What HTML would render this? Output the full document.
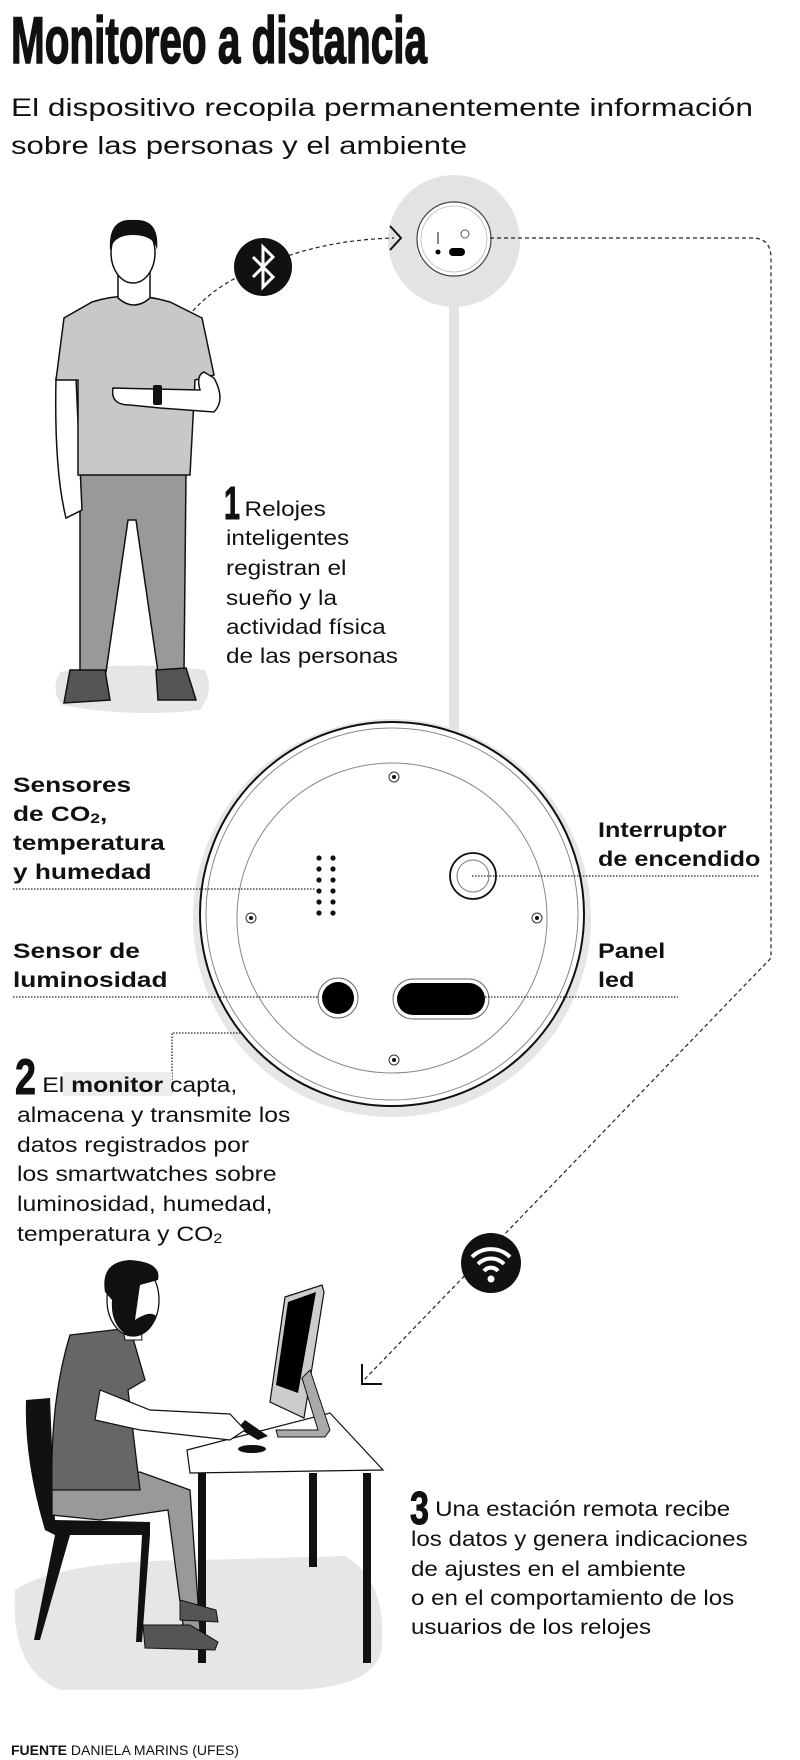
<!DOCTYPE html>
<html><head><meta charset="utf-8"><style>
html,body{margin:0;padding:0;background:#fff;}
svg{display:block;}
text{font-family:"Liberation Sans",sans-serif;fill:#111;}
.b{font-weight:bold;}
.t{font-size:21px;}
</style></head><body>
<svg width="800" height="1760" viewBox="0 0 800 1760" xmlns="http://www.w3.org/2000/svg">
<text x="11" y="63" style="font-family:'Liberation Sans Narrow','Liberation Sans',sans-serif;font-weight:bold;font-size:66px;stroke:#111;stroke-width:1.6" textLength="416" lengthAdjust="spacingAndGlyphs">Monitoreo a distancia</text>
<text x="11" y="116" style="font-size:25px" textLength="742" lengthAdjust="spacingAndGlyphs">El dispositivo recopila permanentemente información</text>
<text x="11" y="154" style="font-size:25px" textLength="456" lengthAdjust="spacingAndGlyphs">sobre las personas y el ambiente</text>

<rect x="449" y="300" width="10" height="440" fill="#e3e3e3"/>
<circle cx="454" cy="241" r="66" fill="#e3e3e3"/>
<circle cx="454" cy="239" r="37" fill="#fff" stroke="#444" stroke-width="1.2"/>
<circle cx="454" cy="239" r="33" fill="none" stroke="#bbb" stroke-width="0.8"/>
<circle cx="465" cy="234" r="4" fill="none" stroke="#555"/>
<rect x="437" y="232" width="2" height="12" fill="#888"/>
<circle cx="438" cy="252" r="2.5" fill="#000"/>
<rect x="449" y="248" width="16" height="8" rx="4" fill="#000"/>

<path d="M490 238 H752 Q771 238 771 258 V958 L364 1380" fill="none" stroke="#222" stroke-width="1.2" stroke-dasharray="4,3"/>
<path d="M362 1364 V1384 H382" fill="none" stroke="#111" stroke-width="2"/>
<path d="M158 386 Q172 300 262 266 Q320 240 394 238" fill="none" stroke="#222" stroke-width="1.2" stroke-dasharray="4,3"/>
<path d="M390 226 L401 238 L390 250" fill="none" stroke="#111" stroke-width="2"/>

<circle cx="263" cy="267" r="29" fill="#111"/>
<path d="M253 257 L273 277 L263 287 V247 L273 257 L253 277" fill="none" stroke="#fff" stroke-width="3"/>
<circle cx="491" cy="1263" r="30" fill="#111"/>
<path d="M472 1257 A27 27 0 0 1 510 1257" fill="none" stroke="#fff" stroke-width="4"/>
<path d="M478 1264 A18 18 0 0 1 504 1264" fill="none" stroke="#fff" stroke-width="4"/>
<path d="M484 1271 A9 9 0 0 1 498 1271" fill="none" stroke="#fff" stroke-width="4"/>
<circle cx="491" cy="1279" r="3.5" fill="#fff"/>

<path d="M60 672 Q130 660 205 670 Q215 690 200 710 Q130 718 62 705 Q50 690 60 672Z" fill="#e6e6e6"/>
<path d="M80 472 L186 472 L184 672 L158 672 L136 520 L128 520 L106 672 L80 672Z" fill="#999" stroke="#111" stroke-width="1.5"/>
<path d="M70 670 L105 670 L110 700 L64 703Z M156 670 L186 668 L196 700 L158 700Z" fill="#555" stroke="#111" stroke-width="1.5"/>
<path d="M56 378 L76 378 L82 510 L66 518 Q54 470 56 378Z" fill="#fff" stroke="#111" stroke-width="1.5"/>
<path d="M92 302 Q130 290 170 302 L202 318 L214 375 L195 380 L190 475 L78 475 L78 380 L56 380 L64 318Z" fill="#c8c8c8" stroke="#111" stroke-width="1.5"/>
<path d="M113 388 L200 390 Q196 375 204 372 L214 378 Q226 400 214 412 L160 408 L130 405 Q110 405 113 388Z" fill="#fff" stroke="#111" stroke-width="1.5"/>
<rect x="153" y="385" width="9" height="20" rx="2" fill="#111"/>
<path d="M118 270 L150 270 L150 298 Q134 312 118 298Z" fill="#fff" stroke="#111" stroke-width="1.5"/>
<ellipse cx="133" cy="253" rx="22" ry="30" fill="#fff" stroke="#111" stroke-width="1.5"/>
<path d="M110 250 Q108 218 133 220 Q160 218 157 250 Q154 235 133 235 Q114 235 110 250Z" fill="#111"/>

<circle cx="392" cy="918" r="199" fill="#e6e6e6"/>
<circle cx="392" cy="914" r="192" fill="#fff" stroke="#111" stroke-width="2"/>
<circle cx="392" cy="914" r="186" fill="none" stroke="#888" stroke-width="1"/>
<circle cx="392" cy="918" r="155" fill="none" stroke="#888" stroke-width="1"/>
<g fill="#fff" stroke="#333" stroke-width="1">
<circle cx="394" cy="777" r="5"/><circle cx="394" cy="1060" r="5"/><circle cx="251" cy="918" r="5"/><circle cx="537" cy="918" r="5"/></g>
<g fill="#111">
<circle cx="394" cy="777" r="2"/><circle cx="394" cy="1060" r="2"/><circle cx="251" cy="918" r="2"/><circle cx="537" cy="918" r="2"/>
<circle cx="319" cy="858" r="2.6"/><circle cx="333" cy="858" r="2.6"/>
<circle cx="319" cy="869" r="2.6"/><circle cx="333" cy="869" r="2.6"/>
<circle cx="319" cy="880" r="2.6"/><circle cx="333" cy="880" r="2.6"/>
<circle cx="319" cy="891" r="2.6"/><circle cx="333" cy="891" r="2.6"/>
<circle cx="319" cy="902" r="2.6"/><circle cx="333" cy="902" r="2.6"/>
<circle cx="319" cy="913" r="2.6"/><circle cx="333" cy="913" r="2.6"/></g>
<circle cx="473" cy="876" r="23" fill="#fff" stroke="#111" stroke-width="1.8"/>
<circle cx="473" cy="876" r="16" fill="none" stroke="#777"/>
<circle cx="338" cy="998" r="20" fill="#fff" stroke="#666"/>
<circle cx="338" cy="998" r="16" fill="#000"/>
<rect x="393" y="979" width="96" height="40" rx="20" fill="#fff" stroke="#666"/>
<rect x="397" y="983" width="88" height="32" rx="16" fill="#000"/>

<g stroke="#222" stroke-width="1.3" stroke-dasharray="1.5,1.5" fill="none">
<path d="M13 889 H315"/><path d="M472 876 H759"/><path d="M13 997 H318"/><path d="M485 997 H678"/>
<path d="M172 1092 V1033 H240"/></g>

<g style="font-size:21px;font-weight:bold" transform="translate(13,0) scale(1.25,1) translate(-13,0)">
<text x="13" y="792" class="b">Sensores</text>
<text x="13" y="821" class="b">de CO<tspan font-size="14" dy="2">2</tspan><tspan dy="-2">,</tspan></text>
<text x="13" y="850" class="b">temperatura</text>
<text x="13" y="879" class="b">y humedad</text>
<text x="13" y="958" class="b">Sensor de</text>
<text x="13" y="987" class="b">luminosidad</text>
</g>
<g style="font-size:21px;font-weight:bold" transform="translate(598,0) scale(1.2,1) translate(-598,0)">
<text x="598" y="837" class="b">Interruptor</text>
<text x="598" y="866" class="b">de encendido</text>
<text x="598" y="958" class="b">Panel</text>
<text x="598" y="987" class="b">led</text>
</g>

<text x="224" y="519" style="font-family:'Liberation Sans Narrow','Liberation Sans',sans-serif;font-weight:bold;font-size:46px;stroke:#111;stroke-width:1" textLength="16" lengthAdjust="spacingAndGlyphs">1</text>
<g style="font-size:21px" transform="translate(226,0) scale(1.16,1) translate(-226,0)">
<text x="242" y="516">Relojes</text>
<text x="226" y="545">inteligentes</text>
<text x="226" y="575">registran el</text>
<text x="226" y="605">sueño y la</text>
<text x="226" y="634">actividad física</text>
<text x="226" y="663">de las personas</text></g>

<rect x="63" y="1072" width="109" height="24" fill="#ececec"/>
<text x="15" y="1094" style="font-family:'Liberation Sans Narrow','Liberation Sans',sans-serif;font-weight:bold;font-size:50px;stroke:#111;stroke-width:1" textLength="21" lengthAdjust="spacingAndGlyphs">2</text>
<g style="font-size:21.5px" transform="translate(17,0) scale(1.15,1) translate(-17,0)">
<text x="39" y="1092">El <tspan class="b">monitor</tspan> capta,</text>
<text x="17" y="1122">almacena y transmite los</text>
<text x="17" y="1152">datos registrados por</text>
<text x="17" y="1181">los smartwatches sobre</text>
<text x="17" y="1211">luminosidad, humedad,</text>
<text x="17" y="1241">temperatura y CO<tspan font-size="14" dy="2">2</tspan></text></g>

<path d="M15 1590 Q60 1560 200 1560 L345 1556 Q385 1580 382 1640 Q385 1685 300 1690 L60 1690 Q10 1670 15 1590Z" fill="#e6e6e6"/>
<path d="M26 1400 L50 1398 L55 1520 L150 1522 L150 1535 L70 1535 L40 1640 L34 1640 L55 1535 L45 1530 Q24 1460 26 1400Z" fill="#111"/>
<path d="M142 1535 L150 1535 L142 1642 L136 1642Z" fill="#111"/>
<path d="M187 1450 L330 1413 L383 1470 L190 1473Z" fill="#fff" stroke="#111" stroke-width="1.2"/>
<rect x="198" y="1473" width="8" height="190" fill="#111"/>
<rect x="309" y="1473" width="8" height="94" fill="#111"/>
<rect x="363" y="1473" width="8" height="190" fill="#111"/>
<path d="M285 1297 L322 1285 L324 1292 L304 1418 L270 1402Z" fill="#ccc" stroke="#111" stroke-width="1.2"/>
<path d="M288 1302 L316 1292 L298 1393 L276 1385Z" fill="#000"/>
<path d="M310 1370 L330 1430 L325 1437 L278 1437 L276 1430 L318 1430 L302 1378Z" fill="#aaa" stroke="#111"/>
<path d="M245 1420 L268 1436 L258 1440 L238 1428Z" fill="#111"/>
<ellipse cx="252" cy="1449" rx="14" ry="4" fill="#111"/>
<path d="M52 1480 L140 1472 L190 1490 L200 1630 L184 1632 L168 1510 L100 1520 L52 1515Z" fill="#999" stroke="#111" stroke-width="1.3"/>
<path d="M180 1600 L216 1610 L218 1622 L180 1620Z M143 1625 L190 1625 L218 1642 L215 1650 L145 1648Z" fill="#555" stroke="#111"/>
<path d="M70 1335 L130 1328 L145 1380 L128 1390 L140 1490 L52 1490 Q50 1400 70 1335Z" fill="#666" stroke="#111" stroke-width="1.3"/>
<path d="M100 1390 L150 1410 L230 1414 L245 1430 L230 1440 L140 1430 L95 1420Z" fill="#fff" stroke="#111" stroke-width="1.2"/>
<path d="M120 1310 L140 1310 L142 1340 L125 1340Z" fill="#fff" stroke="#111"/>
<ellipse cx="133" cy="1300" rx="26" ry="36" fill="#fff" stroke="#111" stroke-width="1.3"/>
<path d="M105 1292 Q100 1262 130 1260 Q162 1262 158 1280 L140 1285 L135 1320 Q150 1310 156 1316 Q150 1338 128 1336 Q110 1325 112 1300Z" fill="#111"/>

<text x="410" y="1524" style="font-family:'Liberation Sans Narrow','Liberation Sans',sans-serif;font-weight:bold;font-size:46px;stroke:#111;stroke-width:1" textLength="19" lengthAdjust="spacingAndGlyphs">3</text>
<g style="font-size:21px" transform="translate(411,0) scale(1.15,1) translate(-411,0)">
<text x="432" y="1516">Una estación remota recibe</text>
<text x="411" y="1546">los datos y genera indicaciones</text>
<text x="411" y="1576">de ajustes en el ambiente</text>
<text x="411" y="1605">o en el comportamiento de los</text>
<text x="411" y="1634">usuarios de los relojes</text></g>

<text x="11" y="1755" style="font-size:14px"><tspan class="b">FUENTE</tspan>  DANIELA MARINS (UFES)</text>
</svg>
</body></html>
